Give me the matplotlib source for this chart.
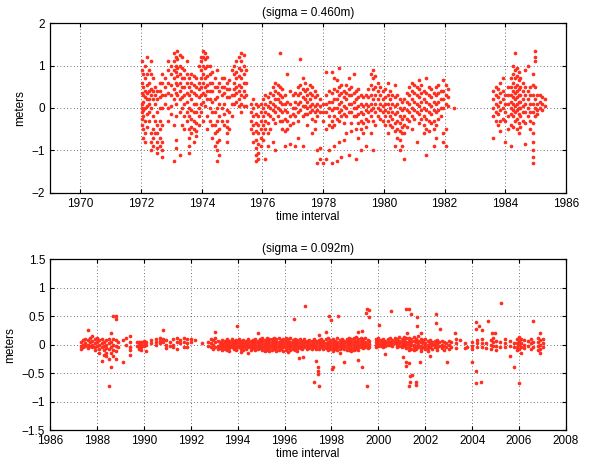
import numpy as np
import matplotlib
matplotlib.use("Agg")
import matplotlib.pyplot as plt

plt.rcParams['font.family'] = ['Liberation Sans', 'DejaVu Sans']

# ---- top panel: vertical strands of residuals (year -> values) ----
top_years = [1972.02, 1972.08, 1972.14, 1972.20, 1972.26, 1972.32, 1972.38, 1972.46, 1972.54, 1972.62,
             1972.70, 1972.80, 1972.90, 1973.00, 1973.08, 1973.14, 1973.20, 1973.27, 1973.34, 1973.42,
             1973.50, 1973.58, 1973.66, 1973.74, 1973.82, 1973.90, 1973.98, 1974.04, 1974.10, 1974.18,
             1974.26, 1974.34, 1974.42, 1974.50, 1974.58, 1974.66, 1974.74, 1974.82, 1974.90, 1975.00,
             1975.06, 1975.14, 1975.22, 1975.30, 1975.38, 1975.46, 1975.62, 1975.70, 1975.78, 1975.86,
             1975.94, 1976.02, 1976.10, 1976.18, 1976.26, 1976.34, 1976.42, 1976.50, 1976.58, 1976.66,
             1976.74, 1976.82, 1976.92, 1977.00, 1977.08, 1977.16, 1977.24, 1977.32, 1977.40, 1977.48,
             1977.56, 1977.64, 1977.72, 1977.80, 1977.90, 1978.00, 1978.10, 1978.20, 1978.28, 1978.36,
             1978.44, 1978.52, 1978.60, 1978.68, 1978.76, 1978.84, 1978.92, 1979.00, 1979.08, 1979.16,
             1979.24, 1979.32, 1979.40, 1979.48, 1979.56, 1979.64, 1979.72, 1979.80, 1979.88, 1979.96,
             1980.04, 1980.12, 1980.20, 1980.28, 1980.36, 1980.44, 1980.52, 1980.60, 1980.68, 1980.76,
             1980.84, 1980.92, 1981.00, 1981.08, 1981.16, 1981.24, 1981.32, 1981.40, 1981.48, 1981.56,
             1981.64, 1981.72, 1981.80, 1981.88, 1981.96, 1982.04, 1982.12, 1982.30,
             1983.60, 1983.68, 1983.76, 1983.84, 1983.92, 1984.00, 1984.10, 1984.20, 1984.26, 1984.32,
             1984.38, 1984.44, 1984.50, 1984.58, 1984.66, 1984.74, 1984.82, 1984.90, 1984.98, 1985.06,
             1985.14, 1985.22, 1985.30]
top_values = [
    [1.1, 0.9, 0.6, 0.35, 0.1, 0.0, -0.1, -0.25, -0.4],
    [0.8, 0.5, 0.3, 0.15, -0.05, -0.2, -0.5, -0.7],
    [1.0, 0.7, 0.4, 0.25, 0.0, -0.3, -0.6, -0.8],
    [1.2, 0.8, 0.55, 0.35, 0.2, 0.05, -0.15, -0.45],
    [0.9, 0.6, 0.4, 0.2, 0.1, -0.1, -0.3],
    [1.1, 0.8, 0.45, 0.3, 0.0, -0.6, -0.8, -1.0],
    [0.7, 0.4, 0.2, -0.2, -0.5, -0.7, -0.9],
    [0.5, 0.3, 0.1, -0.3, -0.6],
    [0.4, 0.2, -0.1, -0.4, -0.6, -0.8, -0.95, -1.05],
    [0.6, 0.4, 0.25, 0.0, -0.3, -0.5, -0.7, -0.9],
    [0.8, 0.6, 0.3, 0.0, -0.4, -0.8, -1.0, -1.15],
    [0.7, 0.5, 0.3, 0.1],
    [1.1, 0.9, 0.6, 0.35, 0.0, -0.3],
    [1.0, 0.8, 0.55, 0.3, 0.05, -0.15],
    [1.3, 1.1, 0.9, 0.7, 0.45, 0.2, -0.4, -1.25],
    [1.2, 1.0, 0.85, 0.6, 0.35, 0.1, -0.2, -0.75, -0.95],
    [1.35, 1.15, 0.95, 0.75, 0.55, 0.3],
    [1.25, 1.0, 0.8, 0.6, 0.4, 0.2, -0.1, -1.1],
    [1.2, 0.95, 0.7, 0.5, 0.25, 0.0, -0.4],
    [0.9, 0.7, 0.5, 0.3, 0.1, -0.2, -0.5],
    [1.1, 0.8, 0.6, 0.35, 0.15, -0.1, -0.3],
    [0.7, 0.5, 0.3, 0.0, -0.2, -0.5, -0.7, -0.9, -1.05],
    [0.8, 0.6, 0.4, 0.2, -0.05, -0.25, -0.45, -0.6],
    [0.75, 0.55, 0.35, 0.1, -0.1, -0.3, -0.5, -0.8],
    [0.7, 0.5, 0.3, 0.1, -0.1, -0.35, -0.55, -0.65],
    [1.0, 0.6, 0.45, 0.25, 0.0, -0.2, -0.4],
    [1.2, 1.1, 0.9, 0.7, 0.5, 0.3, 0.1, -0.1],
    [1.35, 1.2, 1.0, 0.8, 0.6, 0.35, 0.15, -0.3],
    [1.3, 1.15, 0.95, 0.7, 0.5, 0.3, 0.05],
    [1.2, 1.0, 0.75, 0.55, 0.4, 0.2, -0.2, -0.5],
    [1.0, 0.8, 0.6, 0.4, 0.2, 0.0, -0.3],
    [0.85, 0.6, 0.4, 0.15, -0.1, -0.4, -0.7],
    [0.7, 0.5, 0.2, -0.1, -0.4, -0.6, -0.9],
    [0.9, 0.5, 0.25, 0.0, -0.3, -0.55, -0.8, -1.0, -1.25],
    [0.6, 0.4, 0.1, -0.2, -0.5, -0.75, -1.1],
    [0.7, 0.5, 0.3, 0.0, -0.3],
    [0.7, 0.5, 0.35, 0.1, -0.15, -0.4],
    [0.6, 0.45, 0.25, -0.05, -0.3, -0.45, -0.6, -0.8],
    [0.65, 0.45, 0.25, -0.1, -0.5],
    [0.9, 0.3, 0.1, -0.2],
    [1.0, 0.8, 0.6, 0.45, 0.3, 0.1],
    [1.1, 0.85, 0.7, 0.5, 0.35, 0.15],
    [1.2, 0.95, 0.75, 0.55, 0.4, 0.2, 0.05],
    [1.3, 1.1, 0.9, 0.7, 0.5, 0.3, 0.1, -0.1],
    [1.25, 1.0, 0.8, 0.6, 0.4, 0.25, 0.05],
    [0.9, 0.6, 0.3, 0.05],
    [-0.1, -0.3, -0.5, 0.1],
    [0.2, 0.0, -0.2, -0.4, -0.6, -0.8],
    [0.1, -0.15, -0.35, -0.55, -0.75, -0.95, -1.1, -1.25],
    [0.05, -0.2, -0.4, -0.6, -0.85, -1.05, -1.2],
    [0.1, -0.1, -0.3, -0.5, -0.7, -0.9],
    [0.2, 0.0, -0.2, -0.4, -0.6, -0.75],
    [0.3, 0.1, -0.1, -0.3, -0.5, -1.2],
    [0.25, 0.05, -0.15, -0.35, -0.6, -0.9],
    [0.35, 0.15, 0.0, -0.2, -0.5],
    [0.5, 0.3, 0.1, -0.05, -0.25, -0.8],
    [0.6, 0.4, 0.2, 0.05, -0.1, -0.35, -1.0],
    [0.55, 0.35, 0.2, 0.0, -0.2],
    [1.3, 0.5, 0.3, 0.15, -0.05, -0.3],
    [0.45, 0.25, 0.1, -0.1, -0.3, -0.5],
    [0.3, 0.1, -0.05, -0.25, -0.55, -0.9],
    [0.8, 0.15, -0.1, -0.3, -0.5],
    [0.4, 0.1, -0.2, -0.4, -0.85],
    [0.3, 0.0, -0.15, -0.35],
    [0.35, 0.15, 0.0, -0.2, -0.9],
    [0.5, 0.3, 0.1, -0.1, -0.3, -0.7],
    [1.15, 0.55, 0.35, 0.15, -0.05],
    [0.7, 0.45, 0.25, 0.05, -0.2, -0.9],
    [0.6, 0.4, 0.2, 0.05, -0.15],
    [0.45, 0.3, 0.15, 0.0, -0.15, -0.4],
    [0.55, 0.35, 0.2, 0.05, -0.1],
    [0.5, 0.3, 0.1, -0.05, -0.25, -0.6],
    [0.4, 0.25, 0.05, -0.1, -0.3, -0.5],
    [0.3, 0.1, -0.05, -0.2, -1.0, -1.3],
    [0.2, 0.05, -0.1, -0.95, -1.2],
    [0.1, -0.1, -0.3, -1.3],
    [0.85, 0.3, 0.1, -0.1, -0.5, -1.2],
    [0.4, 0.15, 0.0, -0.2, -0.4, -1.0],
    [0.85, 0.35, 0.15, -0.05, -0.3, -0.45, -1.3],
    [0.7, 0.45, 0.2, 0.0, -0.2, -0.4, -0.9],
    [0.65, 0.4, 0.2, 0.0, -0.25, -1.25],
    [0.95, 0.5, 0.3, 0.1, -0.1, -0.3, -0.8],
    [0.55, 0.35, 0.15, -0.05, -0.2, -1.15],
    [0.4, 0.25, 0.05, -0.15, -0.35, -0.75],
    [0.55, 0.35, 0.2, 0.0, -0.2, -0.6],
    [0.7, 0.45, 0.3, 0.1, -0.1, -1.1],
    [0.5, 0.3, 0.1, -0.1, -0.35, -0.55],
    [0.8, 0.35, 0.15, 0.0, -0.2],
    [0.4, 0.2, 0.0, -0.2, -0.5, -1.2],
    [0.45, 0.25, 0.05, -0.15, -0.35, -0.7],
    [0.3, 0.1, -0.1, -0.3, -0.5, -1.0],
    [0.25, 0.05, -0.15, -0.35, -0.6],
    [0.3, 0.1, -0.05, -0.25, -0.45, -0.9],
    [0.45, 0.25, 0.05, -0.1, -0.3],
    [0.8, 0.55, 0.3, 0.1, -0.05, -0.2, -0.6],
    [0.9, 0.7, 0.45, 0.2, 0.0, -0.3, -1.0],
    [0.75, 0.5, 0.3, 0.1, -0.1, -0.4],
    [0.6, 0.4, 0.2, 0.0, -0.2],
    [0.5, 0.3, 0.1, -0.05, -0.25],
    [0.4, 0.2, 0.05, -0.1, -0.3],
    [0.45, 0.25, 0.1, -0.05, -0.2, -0.4],
    [0.6, 0.3, 0.1, -0.1, -0.3, -0.6],
    [0.4, 0.2, 0.0, -0.2, -0.4],
    [0.3, 0.1, -0.1, -0.25, -0.45],
    [0.55, 0.25, 0.05, -0.15, -0.35, -0.55, -0.9],
    [0.3, 0.1, -0.1, -0.3, -0.5, -0.7],
    [0.2, 0.0, -0.2, -0.35, -0.55, -0.75, -1.0],
    [0.15, -0.05, -0.25, -0.45, -0.6, -0.9],
    [0.2, 0.0, -0.2, -0.4, -0.6, -1.2],
    [0.35, 0.15, -0.05, -0.25, -0.45],
    [0.5, 0.3, 0.1, -0.1, -0.3],
    [0.6, 0.4, 0.2, 0.0, -0.2, -0.5],
    [0.55, 0.35, 0.15, -0.05, -0.25],
    [0.5, 0.3, 0.1, -0.1, -0.8],
    [0.65, 0.45, 0.25, 0.05, -0.15, -0.35],
    [0.55, 0.35, 0.15, -0.05, -0.25],
    [0.4, 0.2, 0.0, -0.2, -0.4, -0.6],
    [0.7, 0.35, 0.15, -0.05, -0.25, -0.5, -1.1],
    [0.5, 0.3, 0.1, -0.1, -0.3, -0.55],
    [0.45, 0.25, 0.05, -0.15, -0.35],
    [0.35, 0.15, -0.05, -0.3, -0.5, -0.9],
    [0.5, 0.3, 0.1, -0.1, -0.4, -0.7],
    [0.55, 0.35, 0.15, -0.05, -0.25],
    [0.4, 0.2, 0.0, -0.2],
    [0.65, 0.4, 0.2, 0.0, -0.6, -0.8],
    [0.55, 0.3, 0.1, -0.5, -0.9],
    [0.45, 0.25, 0.05],
    [0.0],
    [0.4, 0.2, 0.0, -0.2, -0.7],
    [0.5, 0.3, 0.1, -0.1, -0.3],
    [0.45, 0.25, 0.05, -0.15, -0.4],
    [0.6, 0.35, 0.15, -0.05, -0.3, -0.55],
    [0.7, 0.4, 0.2, 0.0, -0.25],
    [0.3, 0.1, -0.1, -0.3, -0.8],
    [0.5, 0.3, 0.1, -0.2, -0.5],
    [0.7, 0.5, 0.3, 0.15, 0.0, -0.15, -0.4, -0.9],
    [1.0, 0.8, 0.6, 0.4, 0.25, 0.1, -0.05, -0.2, -0.45],
    [1.3, 0.9, 0.7, 0.5, 0.35, 0.2, 0.05, -0.1, -0.3],
    [0.95, 0.75, 0.55, 0.4, 0.25, 0.1, -0.05, -0.25, -0.5],
    [0.85, 0.65, 0.45, 0.3, 0.15, 0.0, -0.15, -0.35, -0.6],
    [0.7, 0.5, 0.3, 0.15, 0.0, -0.2, -0.45],
    [0.6, 0.4, 0.2, 0.05, -0.1, -0.3],
    [0.9, 0.5, 0.3, 0.1, -0.1, -0.35, -0.85],
    [1.0, 0.4, 0.2, 0.0, -0.2],
    [0.5, 0.3, 0.1, -0.1, -0.3, -0.5],
    [0.8, 0.55, 0.3, 0.1, -0.1, -0.35, -0.6, -0.8, -1.0, -1.15, -1.3],
    [1.35, 1.2, 1.1, 0.5, 0.2, 0.0, -0.2],
    [0.3, 0.1, -0.05, -0.15],
    [0.3, 0.15, 0.0],
    [0.25, 0.1, -0.05],
    [0.2, 0.05],
]

# ---- bottom panel: strands plus isolated outliers ----
bot_years = [1987.30, 1987.40, 1987.50, 1987.60, 1987.70, 1987.80, 1987.90, 1988.00, 1988.10, 1988.20,
             1988.30, 1988.40, 1988.50, 1988.60, 1988.70, 1988.80, 1988.90, 1989.10, 1989.25, 1989.40,
             1989.70, 1989.80, 1989.90, 1990.00, 1990.10, 1990.30, 1990.50, 1990.70, 1990.80, 1990.95,
             1991.10, 1991.25, 1991.40, 1991.55, 1991.70, 1991.85, 1992.00, 1992.20, 1992.50, 1992.75,
             1992.85, 1992.95, 1993.05, 1993.15, 1993.25, 1993.35, 1993.45, 1993.55, 1993.65, 1993.75,
             1993.85, 1993.95, 1994.05, 1994.15, 1994.25, 1994.35, 1994.45, 1994.55, 1994.65, 1994.75,
             1994.85, 1994.95, 1995.05, 1995.15, 1995.25, 1995.35, 1995.45, 1995.55, 1995.65, 1995.75,
             1995.85, 1995.95, 1996.05, 1996.15, 1996.25, 1996.35, 1996.45, 1996.55, 1996.65, 1996.75,
             1996.85, 1996.95, 1997.05, 1997.15, 1997.25, 1997.35, 1997.45, 1997.55, 1997.65, 1997.75,
             1997.85, 1997.95, 1998.05, 1998.15, 1998.25, 1998.35, 1998.45, 1998.55, 1998.65, 1998.75,
             1998.85, 1998.95, 1999.05, 1999.15, 1999.25, 1999.35, 1999.45, 1999.55, 1999.62, 1999.90,
             2000.00, 2000.10, 2000.20, 2000.30, 2000.40, 2000.50, 2000.60, 2000.70, 2000.80, 2000.90,
             2001.00, 2001.10, 2001.20, 2001.30, 2001.40, 2001.50, 2001.60, 2001.70, 2001.80, 2001.90,
             2002.00, 2002.10, 2002.20, 2002.30, 2002.40, 2002.50, 2002.60, 2002.70, 2002.80, 2002.90,
             2003.00, 2003.10, 2003.30, 2003.50, 2003.70, 2003.80, 2004.00, 2004.20, 2004.40, 2004.60,
             2004.80, 2004.90, 2005.00, 2005.20, 2005.40, 2005.60, 2005.80, 2005.90, 2006.00, 2006.10,
             2006.20, 2006.40, 2006.50, 2006.60, 2006.80, 2006.90, 2007.00]
bot_values = [
    [0.05, -0.02, -0.08], [0.08, 0.0, -0.05], [0.1, 0.03, -0.03], [0.25, 0.08, 0.0, -0.06],
    [0.12, 0.05, -0.02], [0.15, 0.06, 0.0, -0.05], [0.1, 0.02, -0.05, -0.1], [0.12, 0.05, -0.03],
    [0.08, 0.0, -0.08, -0.15], [0.1, 0.03, -0.05, -0.28], [0.05, -0.02, -0.1, -0.18],
    [0.08, 0.0, -0.06, -0.15, -0.2], [0.1, 0.02, -0.08, -0.25, -0.72], [0.2, 0.05, -0.05, -0.15, -0.4],
    [0.5, 0.1, 0.0, -0.1, -0.2], [0.5, 0.45, 0.08, -0.02, -0.12, -0.25], [0.05, -0.05],
    [0.08, -0.3], [0.12, 0.0], [0.15, 0.05, -0.05, -0.1, -0.18],
    [0.05, -0.02], [0.05, 0.0, -0.04, -0.08], [0.04, 0.0, -0.05, -0.1], [0.06, 0.02, -0.03],
    [0.05, 0.0, -0.12], [0.08, 0.03], [0.1, 0.04, 0.0], [0.12, 0.06, 0.02], [0.25, 0.1, 0.05],
    [0.08, 0.0, -0.06], [0.05, -0.03], [0.1, 0.0, -0.05], [0.12, 0.04, -0.08], [0.08, 0.02],
    [0.12, 0.05, -0.04], [0.1, 0.02, -0.05], [0.1, 0.04], [0.08], [0.03], [0.05, -0.02],
    [0.1, 0.02, -0.05], [0.08, 0.0, -0.08], [0.22, 0.12, 0.04, -0.04], [0.06, -0.02, -0.08],
    [0.05, 0.0, -0.06],
    [0.08, 0.03, -0.01, -0.05, -0.1], [0.06, 0.02, -0.03, -0.07], [0.1, 0.04, 0.0, -0.04, -0.09],
    [0.07, 0.02, -0.02, -0.06, -0.12], [0.09, 0.04, 0.0, -0.05], [0.06, 0.01, -0.03, -0.08],
    [0.08, 0.03, -0.02, -0.06, -0.1], [0.1, 0.05, 0.0, -0.04], [0.06, 0.02, -0.03, -0.08, -0.13],
    [0.08, 0.03, -0.01, -0.05, -0.1], [0.07, 0.02, -0.03, -0.07], [0.09, 0.04, 0.0, -0.05, -0.15],
    [0.06, 0.01, -0.04, -0.09], [0.08, 0.03, -0.02, -0.06], [0.1, 0.05, 0.0, -0.05, -0.1],
    [0.07, 0.02, -0.03, -0.08], [0.09, 0.04, -0.01, -0.06], [0.11, 0.06, 0.01, -0.04, -0.09],
    [0.08, 0.03, -0.02, -0.07, -0.12], [0.12, 0.06, 0.01, -0.04, -0.09], [0.09, 0.04, -0.01, -0.06, -0.11],
    [0.1, 0.05, 0.0, -0.05, -0.1], [0.12, 0.07, 0.02, -0.03, -0.08], [0.09, 0.04, -0.01, -0.06, -0.12],
    [0.11, 0.05, 0.0, -0.05, -0.1], [0.08, 0.03, -0.02, -0.07], [0.1, 0.05, 0.0, -0.05, -0.11],
    [0.12, 0.06, 0.01, -0.04, -0.09], [0.09, 0.04, -0.01, -0.06, -0.13], [0.11, 0.05, 0.0, -0.05, -0.1],
    [0.08, 0.03, -0.02, -0.07], [0.1, 0.05, 0.0, -0.05, -0.1], [0.08, 0.03, -0.02, -0.06, -0.12],
    [0.1, 0.04, -0.01, -0.06], [0.07, 0.02, -0.03, -0.08], [0.09, 0.04, -0.01, -0.05],
    [0.07, 0.02, -0.02, -0.07], [0.08, 0.03, -0.02, -0.06], [0.06, 0.01, -0.03, -0.07],
    [0.09, 0.04, 0.0, -0.05], [0.07, 0.02, -0.03, -0.08], [0.16, 0.08, 0.03, -0.02, -0.07],
    [0.1, 0.04, 0.0, -0.05], [0.07, 0.02, -0.03, -0.08], [0.09, 0.03, -0.02, -0.06],
    [0.12, 0.05, 0.0, -0.05, -0.1], [0.08, 0.03, -0.02, -0.07], [0.1, 0.04, -0.01, -0.06, -0.12],
    [0.07, 0.02, -0.03, -0.08], [0.11, 0.05, 0.0, -0.05, -0.1], [0.08, 0.03, -0.02, -0.07, -0.15],
    [0.09, 0.04, -0.01, -0.06], [0.07, 0.02, -0.03, -0.08], [0.1, 0.05, 0.0, -0.05, -0.1],
    [0.12, 0.06, 0.01, -0.04, -0.09], [0.09, 0.04, -0.01, -0.06, -0.12], [0.11, 0.06, 0.01, -0.04, -0.09],
    [0.13, 0.07, 0.02, -0.03, -0.08], [0.1, 0.05, 0.0, -0.05, -0.1], [0.12, 0.06, 0.01, -0.04],
    [0.09, 0.04, -0.01, -0.06], [0.11, 0.05, 0.0, -0.05], [0.08, 0.03, -0.02, -0.06],
    [0.06, 0.01, -0.04], [0.1, 0.05, 0.0, -0.05],
    [0.12, 0.06, 0.01, -0.03], [0.08, 0.03, -0.02], [0.1, 0.05, 0.0, -0.05], [0.07, 0.02, -0.03],
    [0.09, 0.04, -0.01], [0.11, 0.05, 0.0], [0.08, 0.03, -0.02], [0.12, 0.06, 0.02],
    [0.09, 0.04, 0.0, -0.04], [0.13, 0.07, 0.03, -0.02], [0.1, 0.05, 0.0, -0.05],
    [0.14, 0.08, 0.02, -0.03], [0.11, 0.05, 0.0, -0.06], [0.12, 0.06, 0.01, -0.04, -0.1],
    [0.09, 0.04, -0.01, -0.07], [0.13, 0.06, 0.0, -0.05, -0.1], [0.1, 0.04, -0.02, -0.08],
    [0.15, 0.07, 0.01, -0.05], [0.1, 0.04, -0.02, -0.08, -0.12], [0.08, 0.02, -0.04],
    [0.1, 0.03, -0.03, -0.08], [0.06, 0.0, -0.06, -0.12], [0.08, 0.02, -0.04], [0.05, -0.01, -0.07],
    [0.07, 0.01, -0.05], [0.08, 0.02, -0.04, -0.1], [0.04, -0.02], [0.06, 0.0, -0.06],
    [0.05, -0.03, -0.1], [0.03, -0.05], [0.06, 0.0, -0.08], [0.04, -0.04], [0.1, 0.02, -0.06],
    [0.08], [0.03, -0.06], [-0.04], [0.05, -0.02, -0.08], [0.08, 0.02, -0.05], [0.1, 0.03, -0.04],
    [0.02, -0.06], [0.08, 0.0, -0.08], [0.12, 0.04, -0.03], [0.06, -0.02, -0.1], [0.04, -0.05],
    [0.1, 0.02, -0.05], [0.06, -0.02, -0.2], [0.03, -0.05], [0.1, 0.03, -0.04, -0.1],
    [0.14, 0.06, 0.0, -0.08], [0.1, 0.02, -0.05, -0.15], [0.08, 0.0, -0.06], [0.06, -0.02],
    [0.1, 0.02, -0.08], [0.05, -0.04], [0.12, 0.05, -0.02, -0.1], [0.2, 0.08, 0.0, -0.08, -0.15],
    [0.1, 0.02, -0.05],
]
bot_out_years = [1993.99, 1994.88, 1996.40, 1996.87, 1996.62, 1996.77, 1997.34, 1997.44, 1997.44, 1997.44,
                 1997.27, 1997.47, 1997.90, 1998.30, 1997.97, 1997.77, 1998.01, 1998.08, 1998.55, 1999.15,
                 1999.30, 1999.15, 1999.30, 1999.50, 1999.60, 1999.47, 1999.60, 1999.50, 2000.03, 2000.53,
                 2000.30, 2001.17, 2001.31, 2001.39, 2001.64, 2001.64, 2001.24, 2001.80, 2001.07, 2001.17,
                 2001.17, 2001.32, 2001.37, 2001.37, 2001.30, 2001.60, 2001.60, 2001.45, 2001.77, 2002.20,
                 2002.45, 2002.45, 2002.63, 2003.27, 2002.94, 2004.17, 2004.31, 2004.40, 2004.15, 2003.98,
                 2004.17, 2004.16, 2004.38, 2004.66, 2005.23, 2004.84, 2004.98, 2005.79, 2006.01, 2006.61]
bot_out_values = [0.33, 0.21, 0.44, 0.68, -0.23, -0.22, -0.28, -0.39, -0.47, -0.52,
                  -0.66, -0.72, 0.50, 0.50, 0.43, 0.22, -0.42, -0.40, -0.31, -0.27,
                  -0.40, 0.22, 0.24, 0.63, 0.60, 0.56, 0.49, -0.72, 0.34, 0.59,
                  -0.16, 0.62, 0.63, 0.53, 0.48, 0.32, 0.20, 0.20, -0.21, -0.30,
                  -0.38, -0.32, -0.55, -0.65, -0.72, -0.65, -0.71, -0.54, -0.30, -0.20,
                  0.53, 0.37, 0.27, 0.20, -0.30, 0.39, 0.32, 0.25, 0.27, -0.30,
                  -0.46, -0.68, -0.65, 0.42, 0.72, 0.21, 0.21, -0.40, -0.67, 0.41]

top_x = np.repeat(top_years, [len(v) for v in top_values])
top_y = np.concatenate(top_values)
bot_x = np.concatenate([np.repeat(bot_years, [len(v) for v in bot_values]), bot_out_years])
bot_y = np.concatenate([np.concatenate(bot_values), bot_out_values])

dot_color = '#ff2e1e'
fig = plt.figure(figsize=(5.92, 4.65), dpi=100)
ax1 = fig.add_axes([0.0845, 0.585, 0.8715, 0.3655])
ax2 = fig.add_axes([0.0845, 0.075, 0.8715, 0.368])

panels = [(ax1, top_x, top_y, (1969, 1986), (-2, 2), 1, '(sigma = 0.460m)'),
          (ax2, bot_x, bot_y, (1986, 2008), (-1.5, 1.5), 0.5, '(sigma = 0.092m)')]
for ax, x, y, xl, yl, ystep, title in panels:
    ax.scatter(x, y, s=7, c=dot_color, linewidths=0, zorder=3)
    ax.set_xlim(*xl)
    ax.set_ylim(*yl)
    ax.set_xticks(np.arange(xl[0], xl[1] + 1, 2) if xl[0] % 2 == 0 else np.arange(xl[0] + 1, xl[1] + 1, 2))
    ax.set_yticks(np.arange(yl[0], yl[1] + 0.01, ystep))
    ax.set_yticklabels([('%g' % t).replace('-', '\u2212') for t in ax.get_yticks()])
    ax.grid(True, linestyle=(0, (1, 3)), color='0.25', linewidth=0.6)
    ax.tick_params(direction='in', top=True, right=True, labelsize=8.5, length=3, width=0.8)
    for s in ax.spines.values():
        s.set_linewidth(0.9)
    ax.set_title(title, fontsize=8.5, pad=5)
    ax.set_xlabel('time interval', fontsize=8.5, labelpad=1)
    ax.set_ylabel('meters', fontsize=8.5, labelpad=4)

fig.savefig('out.png', dpi=100)
